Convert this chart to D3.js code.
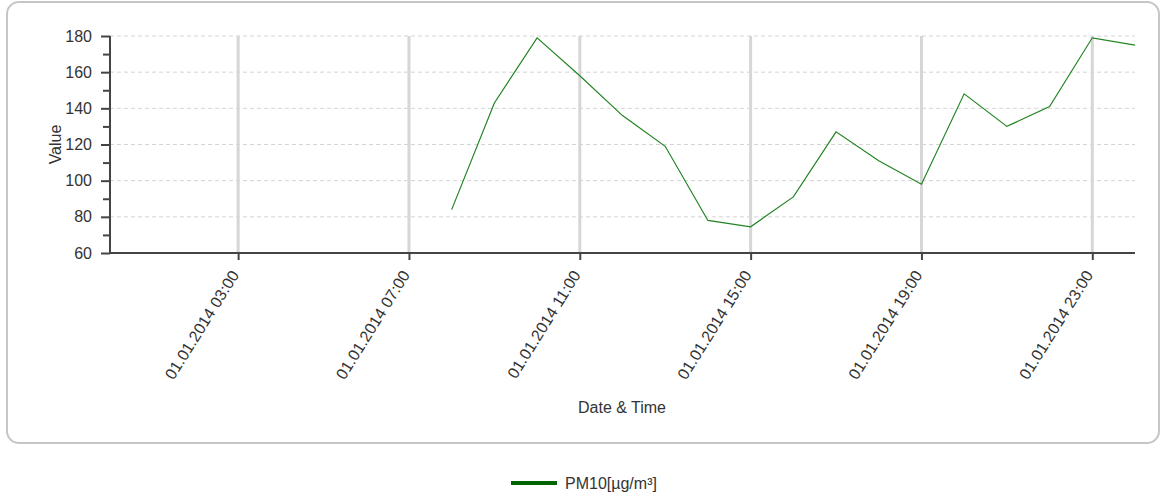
<!DOCTYPE html>
<html>
<head>
<meta charset="utf-8">
<script src="https://cdn.jsdelivr.net/npm/d3@7"></script>
<style>
  html, body { margin: 0; padding: 0; background: #fff; }
  svg { display: block; font-family: "Liberation Sans", Arial, sans-serif; }
</style>
</head>
<body>
<svg id="chart" width="1162" height="497"></svg>
<script>
const times = [
  "01.01.2014 08:00", "01.01.2014 09:00", "01.01.2014 10:00", "01.01.2014 11:00",
  "01.01.2014 12:00", "01.01.2014 13:00", "01.01.2014 14:00", "01.01.2014 15:00",
  "01.01.2014 16:00", "01.01.2014 17:00", "01.01.2014 18:00", "01.01.2014 19:00",
  "01.01.2014 20:00", "01.01.2014 21:00", "01.01.2014 22:00", "01.01.2014 23:00",
  "02.01.2014 00:00"
];
const pm10 = [84, 143, 179, 158, 136, 119, 78, 74.5, 91, 127, 111, 98, 148, 130, 141, 179, 175];
const xTickLabels = [
  "01.01.2014 03:00", "01.01.2014 07:00", "01.01.2014 11:00",
  "01.01.2014 15:00", "01.01.2014 19:00", "01.01.2014 23:00"
];
const xDomain = ["01.01.2014 00:00", "02.01.2014 00:00"];
const yMajorTicks = [60, 80, 100, 120, 140, 160, 180];
const yMinorTicks = [70, 90, 110, 130, 150, 170];
const seriesName = "PM10[µg/m³]";

const parse = d3.timeParse("%d.%m.%Y %H:%M");
const fmt = d3.timeFormat("%d.%m.%Y %H:%M");
const data = times.map((t, i) => ({ t: parse(t), v: pm10[i] }));

const svg = d3.select("#chart");
const plotLeft = 110, plotRight = 1135, plotTop = 36, plotBottom = 253;
const textColor = "#333";

// outer frame
svg.append("rect")
  .attr("x", 7).attr("y", 2)
  .attr("width", 1152).attr("height", 441)
  .attr("rx", 12).attr("ry", 12)
  .attr("fill", "none")
  .attr("stroke", "#c6c6c6")
  .attr("stroke-width", 2);

const x = d3.scaleTime().domain(xDomain.map(parse)).range([plotLeft, plotRight]);
const y = d3.scaleLinear().domain([60, 180]).range([plotBottom, plotTop]);

// horizontal dashed grid
svg.append("g")
  .selectAll("line")
  .data(yMajorTicks.filter(d => d > 60))
  .join("line")
  .attr("x1", plotLeft).attr("x2", plotRight)
  .attr("y1", d => y(d)).attr("y2", d => y(d))
  .attr("stroke", "#d4d4d4")
  .attr("stroke-dasharray", "4,3");

// vertical grid
svg.append("g")
  .selectAll("line")
  .data(xTickLabels.map(parse))
  .join("line")
  .attr("x1", d => x(d)).attr("x2", d => x(d))
  .attr("y1", plotTop).attr("y2", plotBottom)
  .attr("stroke", "#d6d6d6")
  .attr("stroke-width", 3);

// series line
svg.append("path")
  .datum(data)
  .attr("fill", "none")
  .attr("stroke", "#238423")
  .attr("stroke-width", 1.2)
  .attr("d", d3.line().x(d => x(d.t)).y(d => y(d.v)));

// y axis
const yAxis = svg.append("g")
  .attr("transform", `translate(${plotLeft},0)`)
  .call(d3.axisLeft(y).tickValues(yMajorTicks).tickSize(9).tickPadding(9));
svg.append("g")
  .attr("transform", `translate(${plotLeft},0)`)
  .call(d3.axisLeft(y).tickValues(yMinorTicks).tickSize(7).tickFormat(""))
  .call(g => g.select(".domain").remove())
  .selectAll("line").attr("stroke", "#444").attr("stroke-width", 2);
yAxis.select(".domain").attr("stroke", "#444").attr("stroke-width", 2)
  .attr("d", `M0,${plotTop}V${plotBottom}`);
yAxis.selectAll(".tick line").attr("stroke", "#444").attr("stroke-width", 2);
yAxis.selectAll(".tick text")
  .attr("fill", textColor)
  .attr("font-size", "16px")
  .attr("font-family", '"Liberation Sans", Arial, sans-serif');

// x axis
const xAxis = svg.append("g")
  .attr("transform", `translate(0,${plotBottom})`)
  .call(d3.axisBottom(x).tickValues(xTickLabels.map(parse)).tickSize(7).tickFormat(fmt));
xAxis.select(".domain").attr("stroke", "#444").attr("stroke-width", 2)
  .attr("d", `M${plotLeft},0H${plotRight}`);
xAxis.selectAll(".tick line").attr("stroke", "#444").attr("stroke-width", 2);
xAxis.selectAll(".tick text")
  .attr("fill", textColor)
  .attr("font-size", "16px")
  .attr("font-family", '"Liberation Sans", Arial, sans-serif')
  .attr("text-anchor", "end")
  .attr("dy", null)
  .attr("y", 0)
  .attr("transform", "translate(1,22) rotate(-58)");

// axis titles
svg.append("text")
  .attr("transform", `translate(61,${(plotTop + plotBottom) / 2}) rotate(-90)`)
  .attr("text-anchor", "middle")
  .attr("fill", textColor)
  .attr("font-size", "16px")
  .text("Value");

svg.append("text")
  .attr("x", 622).attr("y", 413)
  .attr("text-anchor", "middle")
  .attr("fill", textColor)
  .attr("font-size", "16px")
  .text("Date & Time");

// legend
const legend = svg.append("g").attr("transform", "translate(511,483)");
legend.append("line")
  .attr("x1", 0).attr("x2", 46)
  .attr("stroke", "#006400")
  .attr("stroke-width", 4);
legend.append("text")
  .attr("x", 54).attr("y", 6)
  .attr("fill", textColor)
  .attr("font-size", "16px")
  .text(seriesName);
</script>
</body>
</html>
